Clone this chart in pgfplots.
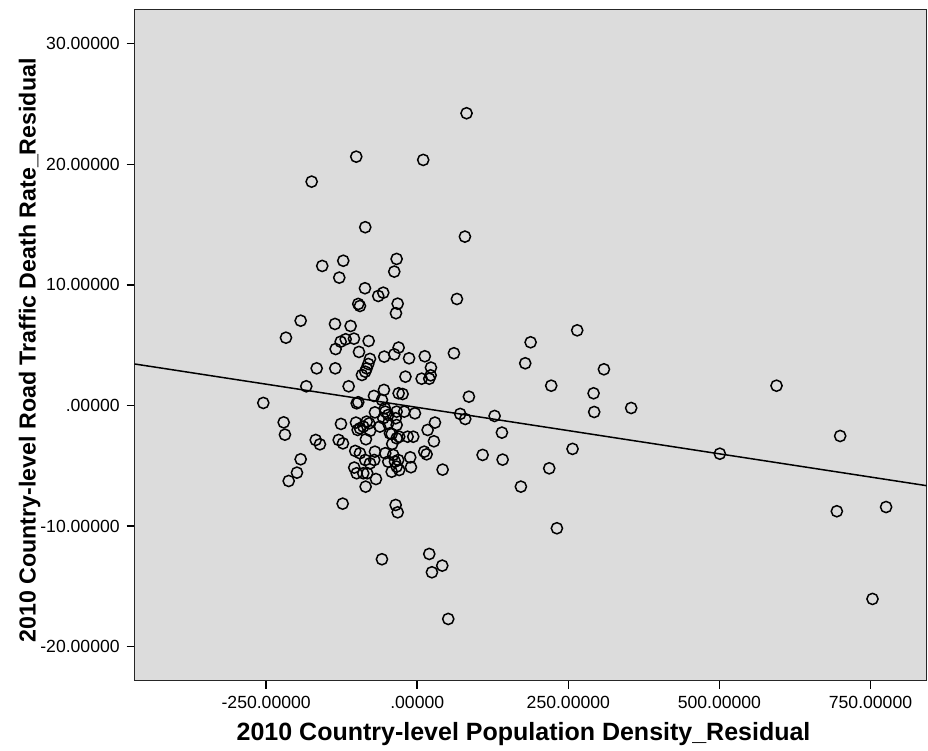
\documentclass[border=0pt]{standalone}
\usepackage{fontspec}
\setmainfont{Liberation Sans}
\usepackage{pgfplots}
\usepackage{pgfplotstable}
\pgfplotsset{compat=1.18}
\definecolor{bg}{RGB}{220,220,220}
\pgfplotstableread{
x y
-100.9 20.63
-174.7 18.56
9.9 20.36
-86 14.78
81.6 24.23
78.9 14.0
-34.1 12.15
-38 11.1
-157.2 11.57
-122.4 12.0
-129 10.6
65.7 8.83
-86.5 9.72
-64.5 9.08
-56.2 9.35
-97.6 8.42
-94.8 8.25
-32.4 8.44
-35.2 7.65
-192.9 7.03
-217.2 5.62
-136.1 6.76
-110.2 6.59
-135 4.68
-126.7 5.29
-118.4 5.49
-104.7 5.54
-80.4 5.35
-96.4 4.44
-78.2 3.86
-81 3.44
-83.7 3.08
-86 2.8
-91.5 2.53
-54.6 4.05
-38 4.24
-30.8 4.8
-13.5 3.91
12.5 4.08
60.7 4.33
22.7 3.14
-166.4 3.08
-135.6 3.08
-183.6 1.59
-254.7 0.21
-113.5 1.59
-19.5 2.39
7.3 2.22
19.9 2.22
22.2 2.5
-55.1 1.29
-71.6 0.79
-58.4 0.46
-30.8 1.01
-24.2 0.95
-100.2 0.18
-97.6 0.27
85.5 0.73
-3.8 -0.65
-70 -0.57
-52.9 -0.51
-48 -0.79
-56.2 -1.06
-34.1 -0.51
-21.5 -0.51
-35.7 -1.06
-53.6 -0.23
71.1 -0.7
79.4 -1.12
128 -0.87
29.3 -1.42
140.1 -2.25
-15.9 -2.59
-6.6 -2.59
27.6 -2.97
17.2 -2.03
11.6 -3.83
15.5 -4.05
-11.6 -4.3
-10.4 -5.12
42 -5.32
108.2 -4.1
141.3 -4.49
218.4 -5.21
171.5 -6.73
231.1 -10.18
19.9 -12.31
41.4 -13.28
24.3 -13.83
51.3 -17.7
-35.7 -8.25
-32.4 -8.86
-58.4 -12.75
-123.4 -8.14
-221 -1.4
-218.9 -2.42
-168 -2.86
-161 -3.22
-130 -2.86
-122.9 -3.14
-192.9 -4.46
-199 -5.57
-212.7 -6.26
-126.2 -1.53
-101.4 -1.42
-94.8 -1.89
-89.3 -1.75
-79.4 -1.48
-98.6 -2.03
-84.9 -2.8
-61.7 -1.75
-42.3 -2.36
-34.1 -2.72
-41.4 -3.19
-83.7 -1.34
-48 -1.48
-34.1 -1.62
-45.2 -2.31
-102.6 -3.77
-94.8 -3.96
-70 -3.83
-86 -4.52
-78.2 -4.8
-71.1 -4.52
-104.2 -5.15
-100.2 -5.62
-89.3 -5.62
-82.7 -5.62
-85.4 -6.73
-68.3 -6.1
-52.9 -3.96
-39.7 -4.1
-48 -4.66
-36.9 -4.66
-34.1 -5.07
-42.3 -5.49
-29.8 -5.35
-29.8 -2.59
-31.4 -4.52
-78 -2.1
264.7 6.23
187.6 5.24
178.7 3.5
308.9 3.0
221.7 1.64
291.8 1.01
292.8 -0.54
354 -0.21
257 -3.6
594.5 1.64
699.8 -2.53
500.7 -4.0
694.3 -8.77
775.8 -8.42
753.3 -16.04
}\pts
\begin{document}
\begin{tikzpicture}
\begin{axis}[
  scale only axis, width=396pt, height=335.7pt,
  xmin=-467.5, xmax=843, ymin=-22.82, ymax=32.85,
  axis background/.style={fill=bg},
  axis line style={line width=0.75pt, black!85},
  tick style={line width=0.75pt, black},
  tick align=outside, major tick length=4pt,
  xtick pos=lower, ytick pos=left,
  xtick={-250,0,250,500,750},
  xticklabels={-250.00000,.00000,250.00000,500.00000,750.00000},
  ytick={-20,-10,0,10,20,30},
  yticklabels={-20.00000,-10.00000,.00000,10.00000,20.00000,30.00000},
  ticklabel style={font=\fontsize{8.8}{10}\selectfont},
  xlabel={2010 Country-level Population Density\_Residual},
  ylabel={2010 Country-level Road Traffic Death Rate\_Residual},
  xlabel style={font=\bfseries\fontsize{12.5}{14}\selectfont, at={(axis description cs:0.491,-0.079)}, anchor=center},
  ylabel style={font=\bfseries\fontsize{11.6}{14}\selectfont, at={(axis description cs:-0.1326,0.492)}, anchor=center},
]
\addplot[only marks, mark=o, mark size=2.8pt, mark options={line width=0.75pt, black}] table[x=x,y=y] {\pts};
\addplot[black, line width=0.75pt] coordinates {(-467.5,3.44) (843,-6.65)};
\end{axis}
\pgfresetboundingbox
\path[use as bounding box] ([shift={(-67.35pt,-35.15pt)}]current axis.south west) rectangle ([shift={(0.65pt,4.65pt)}]current axis.north east);
\end{tikzpicture}
\end{document}
